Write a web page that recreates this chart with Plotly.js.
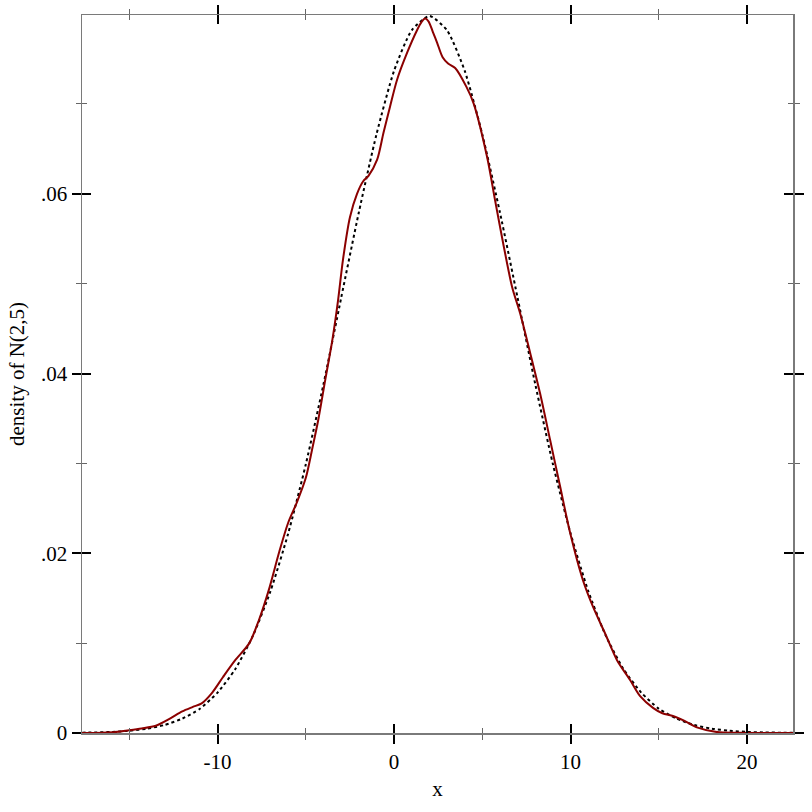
<!DOCTYPE html>
<html>
<head>
<meta charset="utf-8">
<script src="https://cdn.plot.ly/plotly-3.0.1.min.js"></script>
<style>html,body{margin:0;padding:0;background:#fff;}#chart{width:812px;height:812px;}</style>
</head>
<body>
<div id="chart"></div>
<script>
// Kernel density estimate (red)
const kdeX = [-17.7,-16.5,-15.8,-15.0,-14.3,-13.5,-12.7,-12.0,-11.4,-10.9,-10.3,-9.7,-9.0,-8.2,-7.65,-7.1,-6.5,-6.0,-5.5,-5.0,-4.65,-4.3,-3.9,-3.5,-3.17,-2.9,-2.5,-2.1,-1.75,-1.45,-0.96,-0.6,-0.23,0.17,0.74,1.3,1.55,1.75,1.95,2.2,2.44,2.75,3.06,3.46,4.1,4.5,5.27,5.72,6.18,6.69,7.14,7.71,8.27,8.84,9.41,9.97,10.7,11.28,11.95,12.63,13.37,13.94,14.67,15.2,15.8,16.4,17.2,18.3,19.5,22.6];
const kdeY = [0,0.00003,0.0001,0.0003,0.0005,0.0008,0.0016,0.0024,0.0029,0.0033,0.0045,0.0062,0.0081,0.0100,0.0126,0.0159,0.0202,0.0234,0.0257,0.0284,0.0315,0.0348,0.0393,0.0437,0.0482,0.0526,0.0574,0.0600,0.0614,0.0620,0.0638,0.0668,0.0697,0.0727,0.0757,0.0782,0.0791,0.0795,0.0792,0.0780,0.0768,0.0752,0.0745,0.0740,0.0719,0.0701,0.0641,0.0593,0.0545,0.0496,0.0467,0.0423,0.0378,0.0326,0.0274,0.0223,0.0170,0.0140,0.0111,0.0081,0.0059,0.0041,0.0028,0.0022,0.0019,0.0014,0.0006,0.0001,0.00002,0];

// True density of N(2,5) (black dotted)
const pdfX = [-18,-17,-16,-15,-14,-13,-12,-11,-10,-9,-8,-7,-6,-5,-4,-3,-2,-1,0,1,2,3,4,5,6,7,8,9,10,11,12,13,14,15,16,17,18,19,20,21,22,23];
const pdfY = [0.00003,0.00006,0.00012,0.00025,0.00048,0.00089,0.0016,0.0027,0.0045,0.0071,0.0108,0.0158,0.0222,0.0299,0.0388,0.0484,0.0579,0.0666,0.0737,0.0782,0.0798,0.0782,0.0737,0.0666,0.0579,0.0484,0.0388,0.0299,0.0222,0.0158,0.0108,0.0071,0.0045,0.0027,0.0016,0.00089,0.00048,0.00025,0.00012,0.00006,0.00003,0.00001];

const xTickVals = [-10, 0, 10, 20];
const xTickText = ["-10", "0", "10", "20"];
const xMinorVals = [-15, -5, 5, 15];
const yTickVals = [0, 0.02, 0.04, 0.06];
const yTickText = ["0", ".02", ".04", ".06"];
const yMinorVals = [0.01, 0.03, 0.05, 0.07];

const xRange = [-17.68, 22.6];
const yRange = [0, 0.0799];

const font = {family: '"Liberation Serif", "DejaVu Serif", serif', size: 21, color: '#000'};
const axisLine = '#7a7a7a';

function xAx(ticks, labels) {
  return {
    range: xRange, showgrid: false, zeroline: false,
    showline: true, linecolor: axisLine, linewidth: 1.5, mirror: 'ticks',
    tickmode: 'array', tickvals: xTickVals, ticktext: xTickText,
    ticks: ticks, ticklen: 9, tickwidth: 2, tickcolor: '#000',
    showticklabels: labels, tickfont: font,
    minor: {tickmode: 'array', tickvals: xMinorVals, ticks: ticks, ticklen: 5, tickwidth: 1, tickcolor: '#666'}
  };
}
function yAx(ticks, labels) {
  return {
    range: yRange, showgrid: false, zeroline: false,
    showline: true, linecolor: axisLine, linewidth: 1.5, mirror: 'ticks',
    tickmode: 'array', tickvals: yTickVals, ticktext: yTickText,
    ticks: ticks, ticklen: 9, tickwidth: 2, tickcolor: '#000',
    showticklabels: labels, tickfont: font,
    minor: {tickmode: 'array', tickvals: yMinorVals, ticks: ticks, ticklen: 5, tickwidth: 1, tickcolor: '#666'}
  };
}

const xa = xAx('outside', true);
xa.title = {text: 'x', font: font, standoff: 8};
const ya = yAx('outside', true);
ya.title = {text: 'density of N(2,5)', font: font, standoff: 10};
const xa2 = xAx('inside', false);
xa2.overlaying = 'x'; xa2.anchor = 'y'; xa2.side = 'bottom';
const ya2 = yAx('inside', false);
ya2.overlaying = 'y'; ya2.anchor = 'x'; ya2.side = 'left';

const traces = [
  {x: pdfX, y: pdfY, type: 'scatter', mode: 'lines', line: {color: '#000', width: 2, dash: '3px,3px', shape: 'spline', smoothing: 0.6}, hoverinfo: 'skip'},
  {x: kdeX, y: kdeY, type: 'scatter', mode: 'lines', line: {color: '#8b0000', width: 2, shape: 'spline', smoothing: 0.8}, hoverinfo: 'skip'},
  {x: [xRange[0]], y: [0], xaxis: 'x2', yaxis: 'y2', type: 'scatter', mode: 'markers', marker: {opacity: 0}, hoverinfo: 'skip'}
];

const layout = {
  width: 812, height: 812,
  margin: {l: 82, r: 19, t: 15, b: 79},
  paper_bgcolor: '#fff', plot_bgcolor: '#fff',
  showlegend: false,
  font: font,
  xaxis: xa, yaxis: ya, xaxis2: xa2, yaxis2: ya2
};

Plotly.newPlot('chart', traces, layout, {staticPlot: true, displayModeBar: false});
</script>
</body>
</html>
